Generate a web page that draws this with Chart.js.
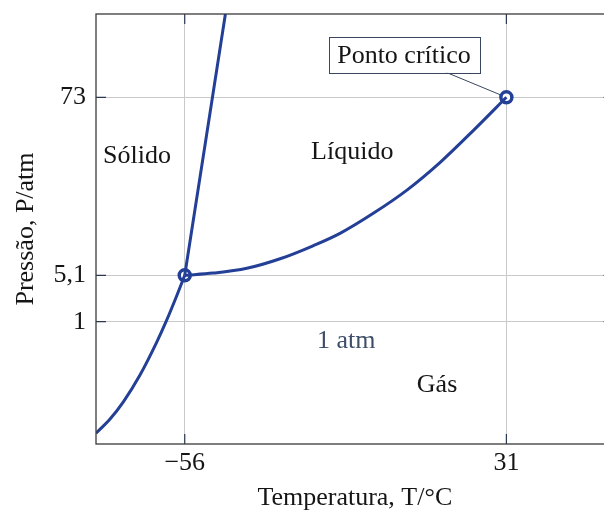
<!DOCTYPE html>
<html lang="pt">
<head>
<meta charset="utf-8">
<title>Diagrama de fases do CO2</title>
<script src="https://cdn.jsdelivr.net/npm/chart.js@4/dist/chart.umd.min.js"></script>
<style>
  html, body { margin: 0; padding: 0; background: #fff; overflow: hidden; }
  canvas { display: block; }
</style>
</head>
<body>
<canvas id="fases" width="620" height="511"></canvas>
<script>
// curva de sublimação (sólido / gás)
const tempSublimacao = [-80, -76.2, -72.6, -68.1, -63.6, -61.06, -58.35, -56];
const pressSublimacao = [0.0875, 0.204, 0.345, 0.564, 0.831, 1.0, 3.14, 5.1];

// curva de fusão (sólido / líquido)
const tempFusao = [-56, -45];
const pressFusao = [5.1, 105];

// curva de ebulição (líquido / gás), do ponto triplo ao ponto crítico
const tempEbulicao = [-56, -48.3, -39.2, -30.2, -21.3, -14, -5, 4.1, 13.1, 22.1, 31];
const pressEbulicao = [5.1, 5.94, 7.77, 11.4, 16.35, 21.1, 28.75, 37.6, 48.2, 60.4, 73];

// ponto triplo e ponto crítico
const tempPontos = [-56, 31];
const pressPontos = [5.1, 73];

const xTicks = [-56, 31];
const xRotulos = ["\u221256", "31"];
const yTicks = [1, 5.1, 73];
const yRotulos = ["1", "5,1", "73"];

// eixo de pressão esquemático: trechos lineares entre os valores marcados
const nosValor = [0, 1, 5.1, 73, 105];
const nosFracao = [0, 0.2844, 0.3923, 0.8063, 1];

function fracaoPressao(v) {
  let i = 0;
  while (i < nosValor.length - 2 && v > nosValor[i + 1]) i++;
  const t = (v - nosValor[i]) / (nosValor[i + 1] - nosValor[i]);
  return nosFracao[i] + t * (nosFracao[i + 1] - nosFracao[i]);
}
function pressaoFracao(f) {
  let i = 0;
  while (i < nosFracao.length - 2 && f > nosFracao[i + 1]) i++;
  const t = (f - nosFracao[i]) / (nosFracao[i + 1] - nosFracao[i]);
  return nosValor[i] + t * (nosValor[i + 1] - nosValor[i]);
}

class EscalaPressao extends Chart.LinearScale {
  getPixelForValue(v) {
    return this.getPixelForDecimal(fracaoPressao(v));
  }
  getValueForPixel(p) {
    return pressaoFracao(this.getDecimalForPixel(p));
  }
}
EscalaPressao.id = "pressao";
EscalaPressao.defaults = Chart.LinearScale.defaults;
Chart.register(EscalaPressao);

const azul = "#233f96";
const corTexto = "#151515";
const fonte = "'Liberation Serif', 'Times New Roman', serif";

const pares = (xs, ys) => xs.map((x, i) => ({ x: x, y: ys[i] }));

// sem folga extra para os rótulos nas pontas dos eixos
const semFolga = s => {
  s.paddingTop = 0; s.paddingBottom = 0;
  s.paddingLeft = 0; s.paddingRight = 0;
};

// rótulos das regiões, em coordenadas do gráfico
const rotulos = [
  { texto: "Sólido", t: -68.9, p: 50.4, cor: corTexto },
  { texto: "Líquido", t: -10.7, p: 51.9, cor: corTexto },
  { texto: "Gás", t: 12.25, p: 0.48, cor: corTexto },
  { texto: "1 atm", t: -12.3, p: 0.843, cor: "#3e4d68" },
];
const caixaCritico = { texto: "Ponto crítico", t: 3.3, p: 89.3 };

const anotacoes = {
  id: "anotacoes",
  beforeDatasetsDraw(chart) {
    const { ctx, chartArea: a, scales: { x, y } } = chart;
    ctx.save();
    // tiques para dentro, nos quatro lados
    ctx.strokeStyle = "#2b3852";
    ctx.lineWidth = 1.2;
    ctx.beginPath();
    xTicks.forEach(v => {
      const px = x.getPixelForValue(v);
      ctx.moveTo(px, a.bottom); ctx.lineTo(px, a.bottom - 10);
      ctx.moveTo(px, a.top); ctx.lineTo(px, a.top + 10);
    });
    yTicks.forEach(v => {
      const py = y.getPixelForValue(v);
      ctx.moveTo(a.left, py); ctx.lineTo(a.left + 10, py);
      ctx.moveTo(a.right, py); ctx.lineTo(a.right - 10, py);
    });
    ctx.stroke();

    ctx.font = "26px " + fonte;
    ctx.textAlign = "center";
    ctx.textBaseline = "middle";
    rotulos.forEach(r => {
      ctx.fillStyle = r.cor;
      ctx.fillText(r.texto, x.getPixelForValue(r.t), y.getPixelForValue(r.p));
    });

    // ponto crítico: linha até a caixa
    const cx = x.getPixelForValue(caixaCritico.t);
    const cy = y.getPixelForValue(caixaCritico.p);
    const px = x.getPixelForValue(tempPontos[1]);
    const py = y.getPixelForValue(pressPontos[1]);
    ctx.strokeStyle = "#3a465e";
    ctx.lineWidth = 1;
    ctx.beginPath();
    ctx.moveTo(px, py);
    ctx.lineTo(cx, cy);
    ctx.stroke();
    const larg = ctx.measureText(caixaCritico.texto).width + 17;
    const alt = 36;
    ctx.fillStyle = "#fff";
    ctx.fillRect(cx - larg / 2, cy - alt / 2, larg, alt);
    ctx.strokeRect(Math.round(cx - larg / 2) + 0.5, Math.round(cy - alt / 2) + 0.5, Math.round(larg), alt);
    ctx.fillStyle = corTexto;
    ctx.fillText(caixaCritico.texto, cx, cy + 1);
    ctx.restore();
  },
  afterDatasetsDraw(chart) {
    const { ctx, chartArea: a } = chart;
    ctx.save();
    ctx.strokeStyle = "#3a3a3a";
    ctx.lineWidth = 1.3;
    ctx.strokeRect(a.left, a.top, a.right - a.left, a.bottom - a.top);
    ctx.restore();
  },
};

const curva = {
  showLine: true,
  borderColor: azul,
  borderWidth: 3,
  pointRadius: 0,
  cubicInterpolationMode: "monotone",
};

new Chart(document.getElementById("fases"), {
  type: "scatter",
  data: {
    datasets: [
      { ...curva, label: "Sublimação", data: pares(tempSublimacao, pressSublimacao) },
      { ...curva, label: "Fusão", data: pares(tempFusao, pressFusao) },
      { ...curva, label: "Ebulição", data: pares(tempEbulicao, pressEbulicao) },
      {
        label: "Pontos",
        data: pares(tempPontos, pressPontos),
        showLine: false,
        borderWidth: 3.5,
        pointRadius: 5.5,
        pointBorderWidth: 3.5,
        pointBackgroundColor: "#fff",
        pointBorderColor: azul,
      },
    ],
  },
  options: {
    responsive: false,
    animation: false,
    layout: { autoPadding: false, padding: { top: 14, right: 6.4, left: 0, bottom: 0 } },
    font: { family: fonte, size: 26 },
    plugins: { legend: { display: false }, tooltip: { enabled: false } },
    scales: {
      x: {
        type: "linear",
        min: -80,
        max: 60,
        afterBuildTicks: s => { s.ticks = xTicks.map(v => ({ value: v })); },
        afterFit: s => { s.height = 67; semFolga(s); },
        ticks: {
          callback: (v, i) => xRotulos[i],
          color: corTexto,
          padding: 4,
          maxRotation: 0,
          font: { family: fonte, size: 26 },
        },
        grid: { color: "#c9c9c9", lineWidth: 1, drawTicks: false },
        border: { display: false },
        title: {
          display: true,
          text: "Temperatura, T/°C",
          color: corTexto,
          font: { family: fonte, size: 26, lineHeight: 1 },
          padding: { top: 0, bottom: 0 },
        },
      },
      y: {
        type: "pressao",
        min: 0,
        max: 105,
        afterBuildTicks: s => { s.ticks = yTicks.map(v => ({ value: v })); },
        afterFit: s => { s.width = 96; semFolga(s); },
        ticks: {
          callback: (v, i) => yRotulos[i],
          color: corTexto,
          padding: 10,
          font: { family: fonte, size: 26 },
        },
        grid: { color: "#c9c9c9", lineWidth: 1, drawTicks: false },
        border: { display: false },
        title: {
          display: true,
          text: "Pressão, P/atm",
          color: corTexto,
          font: { family: fonte, size: 26, lineHeight: 1 },
          padding: { top: 13, bottom: 0 },
        },
      },
    },
  },
  plugins: [anotacoes],
});
</script>
</body>
</html>
